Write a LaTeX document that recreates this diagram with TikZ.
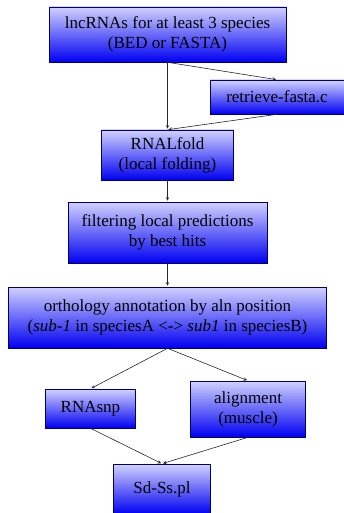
\documentclass[tikz,border=0pt]{standalone}
\usepackage{fontspec}
\setmainfont{Liberation Serif}
\usetikzlibrary{positioning}

\tikzset{
  proc/.style={draw=blue!40!black, line width=0.6pt, top color=blue!18, bottom color=blue!95!black,
    align=center, inner sep=2pt, font=\fontsize{17}{20}\selectfont}
}

\begin{document}
\begin{tikzpicture}[shorten >= 1pt, on grid, >=stealth]
				\clip (0,0) rectangle (344pt,-513pt);
				\node[proc, minimum width=237pt, minimum height=55pt] (lnc) at (167.5pt,-34.5pt) {lncRNAs for at least 3 species \\ (BED or FASTA)};
				\node[proc, minimum width=134pt, minimum height=34pt] (ret) [below right=62.5pt and 109.5pt of lnc] {retrieve-fasta.c};
				\node[proc, minimum width=132pt, minimum height=50pt] (rnal) [below=120.5pt of lnc] {RNALfold \\ (local folding)};
				\node[proc, minimum width=199pt, minimum height=61pt] (filt) [below=77.5pt of rnal] {filtering local predictions \\ by best hits};
				\node[proc, minimum width=318pt, minimum height=61pt] (orth) [below=85pt of filt] {orthology annotation by aln position \\ (\textit{sub-1} in speciesA <-> \textit{sub1} in speciesB)};
				\node[proc, minimum width=90pt, minimum height=39pt] (snp) [below left=91pt and 77pt of orth] {RNAsnp};
				\node[proc, minimum width=115pt, minimum height=56pt] (aln) [below right=91.5pt and 80.5pt of orth] {alignment \\ (muscle)};
				\node[proc, minimum width=97pt, minimum height=50pt] (sd) [below right=80.5pt and 71.5pt of snp] {Sd-Ss.pl};
				
				\path[->, black!85, line width=0.6pt]
				(lnc.south) edge (rnal.north)
				(lnc.south) edge (ret.north)
				(ret.south) edge (rnal.north)
				(rnal.south) edge (filt.north)
				(filt.south) edge (orth.north)
				(orth.south) edge (snp.north)
				(orth.south) edge (aln.north)
				(snp.south) edge (sd.north)
				(aln.south) edge (sd.north)
				;
\end{tikzpicture}
\end{document}
